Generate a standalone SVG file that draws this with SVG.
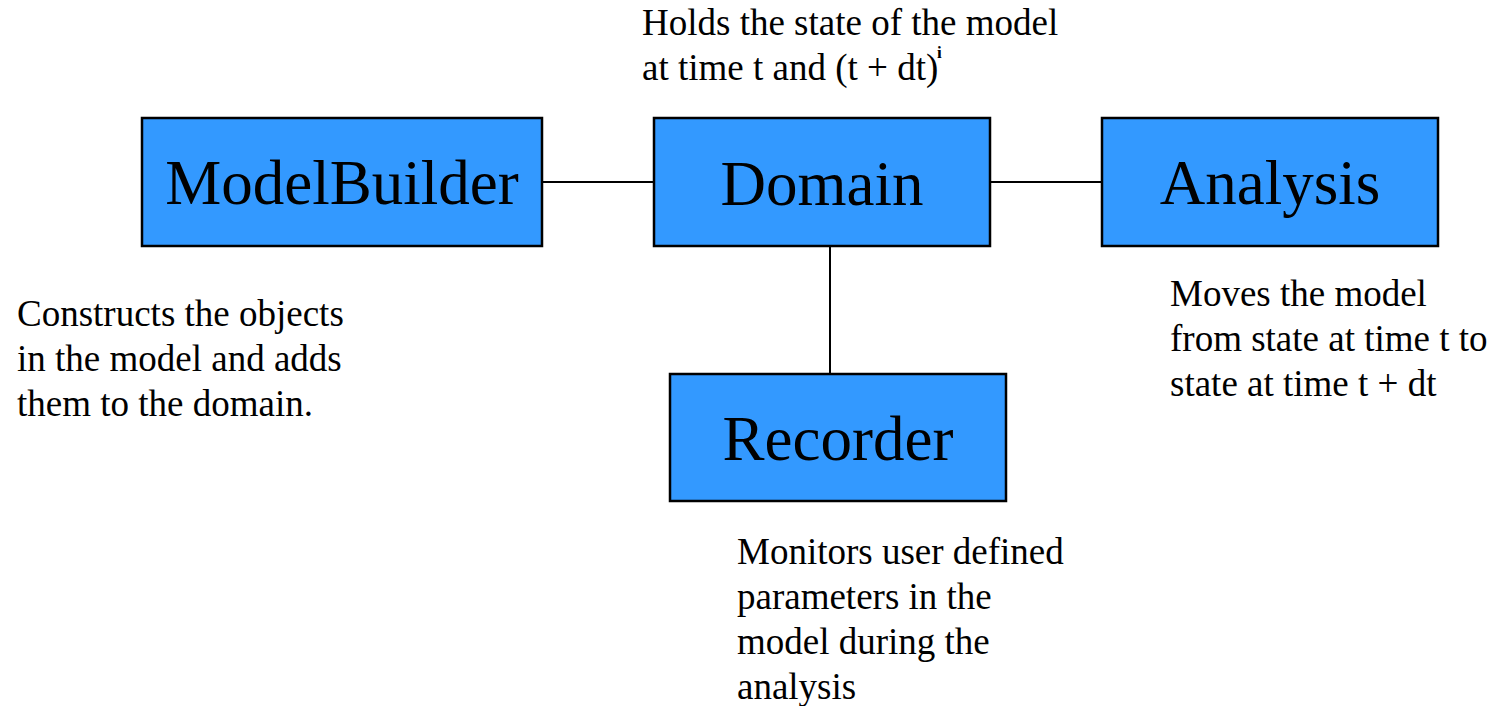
<svg xmlns="http://www.w3.org/2000/svg" width="1494" height="706" viewBox="0 0 1494 706">
<style>
.box{fill:#3399FF;stroke:#000;stroke-width:2.5}
.lbl{font-family:"Liberation Serif","Times New Roman",serif;font-size:63px;fill:#000;text-anchor:middle}
.note{font-family:"Liberation Serif","Times New Roman",serif;font-size:37px;fill:#000}
.sup{font-family:"Liberation Serif","Times New Roman",serif;font-size:17px;font-weight:700;fill:#000}
.conn{stroke:#000;stroke-width:2;fill:none}
</style>
<rect width="1494" height="706" fill="#fff"/>
<g id="connectors">
<line class="conn" x1="542" y1="182" x2="653" y2="182"/>
<line class="conn" x1="990" y1="182" x2="1102" y2="182"/>
<line class="conn" x1="830" y1="246" x2="830" y2="374"/>
</g>
<g id="modelbuilder">
<rect class="box" x="142" y="118" width="400" height="128"/>
<text class="lbl" x="342" y="204">ModelBuilder</text>
</g>
<g id="domain">
<rect class="box" x="654" y="118" width="336" height="128"/>
<text class="lbl" x="822" y="205">Domain</text>
</g>
<g id="analysis">
<rect class="box" x="1102" y="118" width="336" height="128"/>
<text class="lbl" x="1270" y="204">Analysis</text>
</g>
<g id="recorder">
<rect class="box" x="670" y="374" width="336" height="127"/>
<text class="lbl" x="838" y="460">Recorder</text>
</g>
<g id="note-domain">
<text class="note" x="642" y="35">Holds the state of the model</text>
<text class="note" x="642" y="80">at time t and (t + dt)</text>
<text class="sup" x="937" y="58">i</text>
</g>
<g id="note-modelbuilder">
<text class="note" x="17" y="326">Constructs the objects</text>
<text class="note" x="17" y="371">in the model and adds</text>
<text class="note" x="17" y="416">them to the domain.</text>
</g>
<g id="note-analysis">
<text class="note" x="1170" y="306">Moves the model</text>
<text class="note" x="1170" y="351">from state at time t to</text>
<text class="note" x="1170" y="396">state at time t + dt</text>
</g>
<g id="note-recorder">
<text class="note" x="737" y="564">Monitors user defined</text>
<text class="note" x="737" y="609">parameters in the</text>
<text class="note" x="737" y="654">model during the</text>
<text class="note" x="737" y="699">analysis</text>
</g>
</svg>
